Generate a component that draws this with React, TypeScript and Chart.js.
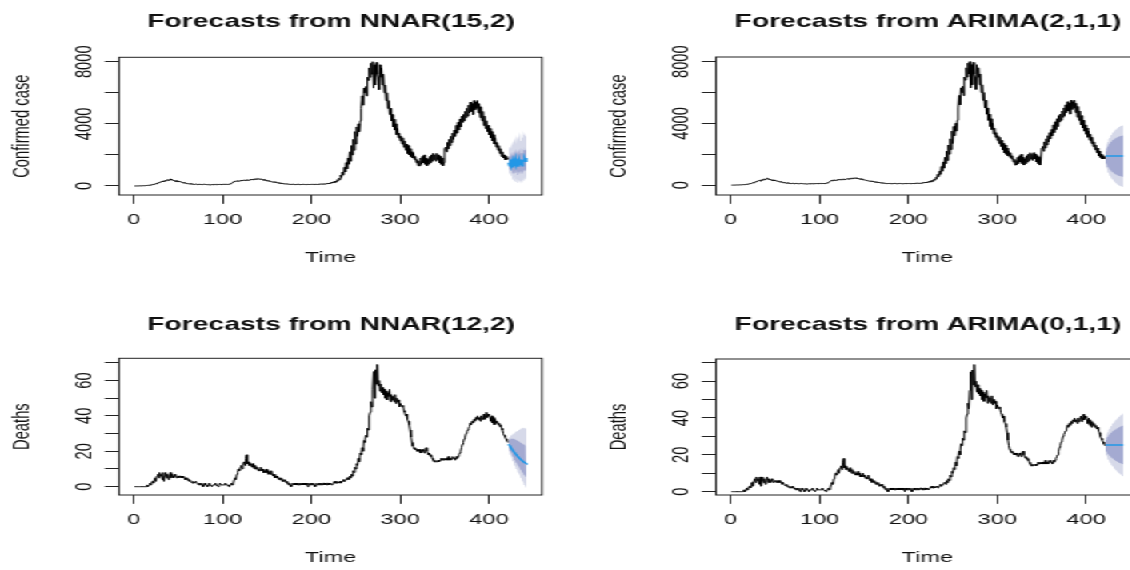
import React, { useEffect, useRef } from "react";
import { Chart, registerables } from "chart.js";

Chart.register(...registerables);

// ---------------- DATA ----------------
// Daily confirmed cases, day 1..421
const CASES: number[] = [
  0, 0, 2, 5, 3, 8, 10, 6, 12, 15,
  20, 18, 25, 30, 28, 40, 45, 60, 55, 80,
  90, 110, 100, 140, 160, 150, 200, 220, 210, 260,
  280, 300, 260, 320, 350, 310, 380, 400, 360, 420,
  450, 380, 410, 350, 380, 330, 300, 340, 280, 300,
  260, 280, 240, 250, 220, 200, 210, 180, 160, 170,
  150, 140, 130, 150, 120, 110, 130, 100, 110, 120,
  100, 90, 110, 100, 95, 105, 90, 100, 110, 95,
  100, 85, 90, 80, 95, 70, 85, 90, 75, 100,
  90, 100, 85, 110, 95, 105, 100, 110, 90, 100,
  110, 100, 120, 105, 115, 100, 130, 120, 140, 180,
  220, 260, 300, 280, 320, 300, 340, 310, 330, 350,
  320, 360, 340, 370, 350, 380, 360, 400, 370, 390,
  410, 380, 420, 400, 440, 420, 460, 430, 480, 450,
  470, 440, 420, 450, 400, 380, 410, 360, 350, 330,
  340, 300, 310, 280, 290, 260, 250, 270, 230, 240,
  220, 200, 210, 180, 190, 160, 170, 150, 140, 150,
  130, 120, 140, 110, 120, 100, 115, 105, 95, 110,
  100, 90, 105, 95, 110, 100, 90, 105, 95, 100,
  110, 95, 100, 90, 105, 100, 110, 95, 100, 105,
  100, 110, 95, 120, 105, 115, 100, 125, 110, 120,
  130, 115, 140, 120, 150, 130, 160, 140, 180, 150,
  200, 170, 240, 200, 280, 220, 320, 260, 400, 350,
  500, 420, 700, 550, 900, 700, 1200, 900, 1500, 1100,
  1800, 1400, 2200, 1600, 2600, 2000, 3000, 2300, 3500, 2700,
  3800, 3200, 4000, 3500, 4200, 5000, 5800, 5200, 6300, 6000,
  6400, 5800, 7000, 6800, 7600, 7000, 7900, 7200, 8000, 6300,
  7800, 6500, 7950, 7200, 7000, 6200, 7800, 7000, 7600, 6500,
  7200, 6000, 6500, 5500, 6000, 5000, 5500, 4600, 5000, 4200,
  4600, 3800, 4300, 3600, 4000, 3300, 3700, 3100, 3400, 2900,
  3200, 2700, 3100, 2500, 2900, 2300, 2700, 2100, 2600, 2000,
  2400, 1900, 2200, 1800, 2100, 1700, 1900, 1500, 1700, 1300,
  1600, 1300, 1800, 1400, 1900, 1500, 2000, 1400, 1800, 1300,
  1700, 1400, 1900, 1500, 2000, 1600, 2100, 1700, 2000, 1600,
  2100, 1700, 2000, 1500, 1900, 1400, 1800, 1300, 1500, 2400,
  2500, 2200, 2800, 2400, 3000, 2600, 3200, 2800, 3400, 3000,
  3600, 3200, 3900, 3400, 4100, 3600, 4300, 3800, 4500, 4100,
  4600, 4200, 4800, 4400, 5000, 4500, 5200, 4700, 5400, 4800,
  5300, 4600, 5500, 4900, 5400, 5000, 5500, 4700, 5300, 4400,
  5100, 4200, 4800, 3900, 4500, 3700, 4200, 3500, 3900, 3300,
  3700, 3100, 3500, 2900, 3300, 2700, 3100, 2500, 2800, 2300,
  2600, 2100, 2400, 1900, 2200, 1800, 2000, 1700, 1900, 1700,
  1800,
];

// Daily deaths, day 1..421
const DEATHS: number[] = [
  0, 0, 0, 0, 0, 0, 0, 0, 0, 0,
  0, 0, 0, 0, 1, 0, 1, 2, 1, 2,
  3, 2, 4, 5, 3, 6, 7, 5, 8, 6,
  7, 4, 8, 3, 6, 8, 5, 7, 4, 6,
  8, 5, 7, 6, 5, 7, 6, 5, 6, 6,
  5, 6, 6, 5, 6, 5, 5, 4, 5, 4,
  4, 3, 4, 3, 3, 2, 3, 2, 2, 3,
  2, 2, 1, 2, 1, 2, 1, 0, 1, 2,
  1, 1, 0, 1, 2, 1, 1, 0, 1, 1,
  1, 2, 1, 1, 0, 1, 2, 1, 1, 1,
  1, 1, 2, 1, 1, 1, 0, 1, 1, 2,
  1, 2, 4, 5, 4, 7, 8, 10, 9, 11,
  12, 10, 13, 14, 12, 16, 18, 13, 14, 12,
  13, 12, 11, 13, 11, 10, 12, 10, 11, 9,
  10, 9, 11, 9, 10, 8, 9, 8, 10, 8,
  9, 7, 8, 7, 9, 7, 6, 7, 5, 6,
  5, 6, 4, 5, 4, 5, 3, 4, 3, 4,
  3, 2, 3, 1, 2, 1, 0, 1, 2, 1,
  2, 1, 2, 1, 1, 2, 1, 2, 1, 2,
  1, 2, 1, 2, 1, 0, 2, 1, 1, 2,
  1, 2, 1, 0, 1, 2, 1, 1, 2, 1,
  2, 1, 2, 2, 1, 2, 1, 2, 2, 1,
  2, 2, 1, 2, 2, 3, 2, 2, 3, 2,
  2, 3, 2, 3, 3, 4, 3, 4, 4, 5,
  5, 4, 6, 5, 7, 6, 9, 8, 11, 10,
  13, 12, 16, 14, 19, 18, 22, 20, 26, 25,
  29, 28, 33, 32, 40, 42, 48, 45, 55, 65,
  50, 66, 58, 69, 57, 60, 54, 58, 53, 56,
  52, 55, 50, 54, 49, 53, 51, 55, 48, 52,
  49, 51, 48, 52, 47, 50, 48, 49, 45, 47,
  47, 45, 46, 43, 42, 40, 41, 38, 37, 35,
  32, 28, 25, 23, 22, 21, 22, 21, 20, 21,
  20, 21, 19, 20, 21, 20, 19, 21, 22, 20,
  19, 18, 19, 17, 18, 16, 15, 14, 15, 14,
  14, 14, 15, 14, 15, 16, 15, 16, 15, 16,
  15, 16, 15, 17, 15, 16, 15, 16, 17, 16,
  16, 15, 17, 16, 17, 18, 19, 20, 22, 24,
  25, 27, 28, 30, 31, 32, 33, 34, 36, 35,
  37, 36, 38, 37, 39, 38, 40, 38, 39, 37,
  40, 38, 39, 41, 38, 40, 42, 39, 41, 40,
  39, 37, 40, 36, 39, 35, 38, 36, 37, 35,
  36, 34, 35, 33, 32, 30, 29, 28, 27, 26,
  25,
];

// First forecast day (forecasts run for 21 days)
const FC_START = 422;

// NNAR(15,2) forecast of confirmed cases
const NNAR_CASE_MEAN = [1500, 1300, 1700, 1350, 1600, 1200, 1550, 1300, 1700, 1400, 1550, 1250, 1650, 1400, 1700, 1300, 1550, 1650, 1750, 1600, 1800];
const NNAR_CASE_HI95 = [2300, 2500, 2700, 2400, 2900, 2600, 3100, 2800, 3300, 2700, 3200, 3000, 3500, 2900, 3400, 3100, 3600, 3300, 3500, 3200, 3400];
const NNAR_CASE_LO95 = [900, 700, 900, 600, 700, 400, 600, 300, 500, 250, 450, 200, 400, 150, 350, 200, 400, 300, 500, 400, 600];
const NNAR_CASE_HI80 = [1900, 1900, 2200, 1900, 2200, 1900, 2300, 2000, 2400, 2000, 2300, 2000, 2400, 2100, 2500, 2100, 2400, 2300, 2500, 2300, 2500];
const NNAR_CASE_LO80 = [1150, 1000, 1200, 950, 1050, 800, 1000, 800, 1050, 850, 950, 700, 950, 750, 1000, 750, 900, 950, 1050, 950, 1100];

// ARIMA(2,1,1) forecast of confirmed cases
const ARIMA_CASE_MEAN = [1880, 1880, 1880, 1880, 1880, 1880, 1880, 1880, 1880, 1880, 1880, 1880, 1880, 1880, 1880, 1880, 1880, 1880, 1880, 1880, 1880];
const ARIMA_CASE_HI95 = [2350, 2600, 2800, 2950, 3050, 3150, 3250, 3330, 3400, 3470, 3530, 3590, 3640, 3690, 3730, 3770, 3800, 3830, 3850, 3870, 3880];
const ARIMA_CASE_LO95 = [1410, 1160, 960, 810, 710, 610, 510, 430, 360, 290, 230, 170, 120, 70, 30, -10, -40, -70, -90, -110, -120];
const ARIMA_CASE_HI80 = [2190, 2360, 2500, 2600, 2680, 2750, 2810, 2870, 2920, 2960, 3000, 3040, 3070, 3100, 3130, 3150, 3170, 3190, 3200, 3210, 3220];
const ARIMA_CASE_LO80 = [1570, 1400, 1260, 1160, 1080, 1010, 950, 890, 840, 800, 760, 720, 690, 660, 630, 610, 590, 570, 560, 550, 540];

// NNAR(12,2) forecast of deaths
const NNAR_DEATH_MEAN = [24, 23.3, 22.5, 21.8, 21, 20.3, 19.6, 19, 18.4, 17.8, 17.2, 16.7, 16.2, 15.7, 15.2, 14.8, 14.4, 14, 13.7, 13.4, 13.1];
const NNAR_DEATH_HI95 = [27, 28, 28.5, 29, 29.5, 30, 30, 30.5, 31, 31, 31.5, 32, 32, 32.5, 33, 33, 33.5, 33, 33.5, 33, 32.5];
const NNAR_DEATH_LO95 = [21, 19.5, 18, 17, 15.5, 14.5, 13, 12, 11, 10, 9, 8, 7, 6, 5, 4, 3, 2, 1, 0, -0.5];
const NNAR_DEATH_HI80 = [26, 26.5, 27, 27, 27, 27, 27, 27, 26.5, 26.5, 26, 26, 25.5, 25, 25, 24.5, 24, 24, 23.5, 23, 23];
const NNAR_DEATH_LO80 = [22, 21, 20, 19, 18, 17, 16, 15, 14, 13.5, 12.5, 12, 11, 10, 9.5, 8.5, 8, 7, 6.5, 6, 5.5];

// ARIMA(0,1,1) forecast of deaths
const ARIMA_DEATH_MEAN = [25.4, 25.4, 25.4, 25.4, 25.4, 25.4, 25.4, 25.4, 25.4, 25.4, 25.4, 25.4, 25.4, 25.4, 25.4, 25.4, 25.4, 25.4, 25.4, 25.4, 25.4];
const ARIMA_DEATH_HI95 = [29.5, 31, 32.3, 33.3, 34.2, 35, 35.7, 36.4, 37, 37.6, 38.2, 38.7, 39.2, 39.7, 40.2, 40.6, 41, 41.5, 41.9, 42.3, 42.7];
const ARIMA_DEATH_LO95 = [21.3, 19.8, 18.5, 17.5, 16.6, 15.8, 15.1, 14.4, 13.8, 13.2, 12.6, 12.1, 11.6, 11.1, 10.6, 10.2, 9.8, 9.3, 8.9, 8.5, 8.1];
const ARIMA_DEATH_HI80 = [28, 29, 29.8, 30.5, 31, 31.5, 32, 32.4, 32.8, 33.2, 33.5, 33.8, 34.1, 34.4, 34.7, 35, 35.2, 35.4, 35.6, 35.8, 36];
const ARIMA_DEATH_LO80 = [22.8, 21.8, 21, 20.3, 19.8, 19.3, 18.8, 18.4, 18, 17.6, 17.3, 17, 16.7, 16.4, 16.1, 15.8, 15.6, 15.4, 15.2, 15, 14.8];

// Tick labels
const X_TICKS = [0, 100, 200, 300, 400];
const CASE_TICKS = [0, 2000, 4000, 6000, 8000];
const CASE_LABELLED = [0, 4000, 8000];
const DEATH_TICKS = [0, 10, 20, 30, 40, 50, 60, 70];
const DEATH_LABELLED = [0, 20, 40, 60];

const TITLES = [
  "Forecasts from NNAR(15,2)",
  "Forecasts from ARIMA(2,1,1)",
  "Forecasts from NNAR(12,2)",
  "Forecasts from ARIMA(0,1,1)",
];
const Y_LABELS = ["Confirmed case", "Deaths"];

// ---------------- STYLE / LAYOUT ----------------
const STRETCH = 1.6;
const FONT = "'Liberation Sans', Arial, sans-serif";
const TEXT = "#111";
const FC_COLOR = "#2297E6";
const C80 = "#A4AAD1";
const C95 = "#D6D9E9";
const FS = 14.75;
const FS_TITLE = 17.7;

type Fc = { mean: number[]; hi95: number[]; lo95: number[]; hi80: number[]; lo80: number[] };

type PanelCfg = {
  title: string;
  ylab: string;
  history: number[];
  fc: Fc;
  yTicks: number[];
  yLabelled: number[];
  yMin: number;
  yMax: number;
  left: number;
  top: number;
  yW: number;
  rW: number;
  tPadTop: number;
  tPadBottom: number;
  xH: number;
  xTickPad: number;
  xTitlePadBottom: number;
  yTickPad: number;
};

const W = 414;
const H = 285;

const boxPlugin = {
  id: "plotBox",
  afterDatasetsDraw(chart: any) {
    const { ctx, chartArea: a } = chart;
    ctx.save();
    ctx.strokeStyle = "#222";
    ctx.lineWidth = 1;
    ctx.strokeRect(a.left, a.top, a.right - a.left, a.bottom - a.top);
    ctx.restore();
  },
};

function Panel({ cfg }: { cfg: PanelCfg }) {
  const ref = useRef<HTMLCanvasElement>(null);
  useEffect(() => {
    const p = cfg;
    const hist = p.history.map((v, i) => ({ x: i + 1, y: v }));
    const fx = (arr: number[]) => arr.map((v, i) => ({ x: FC_START + i, y: v }));
    const none = "rgba(0,0,0,0)";
    const font = { family: FONT, size: FS };
    const chart = new Chart(ref.current as HTMLCanvasElement, {
      type: "line",
      data: {
        datasets: [
          { label: "Forecast", data: fx(p.fc.mean), borderColor: FC_COLOR, borderWidth: 1.5, pointRadius: 0, fill: false, tension: 0 },
          { label: "Observed", data: hist, borderColor: "#000", borderWidth: 1.0, pointRadius: 0, fill: false, tension: 0 },
          { label: "80% upper", data: fx(p.fc.hi80), borderColor: none, borderWidth: 0, pointRadius: 0, backgroundColor: C80, fill: "+1", tension: 0 },
          { label: "80% lower", data: fx(p.fc.lo80), borderColor: none, borderWidth: 0, pointRadius: 0, fill: false, tension: 0 },
          { label: "95% upper", data: fx(p.fc.hi95), borderColor: none, borderWidth: 0, pointRadius: 0, backgroundColor: C95, fill: "+1", tension: 0 },
          { label: "95% lower", data: fx(p.fc.lo95), borderColor: none, borderWidth: 0, pointRadius: 0, fill: false, tension: 0 },
        ],
      },
      options: {
        animation: false,
        responsive: false,
        events: [],
        layout: { padding: 0 },
        plugins: {
          legend: { display: false },
          tooltip: { enabled: false },
          title: {
            display: true,
            text: p.title,
            color: TEXT,
            font: { family: FONT, size: FS_TITLE, weight: "bold", lineHeight: 1.2 },
            padding: { top: p.tPadTop, bottom: p.tPadBottom },
          },
        },
        scales: {
          x: {
            type: "linear",
            min: -16.6,
            max: 459.6,
            afterBuildTicks: (s: any) => {
              s.ticks = X_TICKS.map((v) => ({ value: v }));
            },
            afterFit: (s: any) => {
              s.height = p.xH;
            },
            grid: { display: true, drawOnChartArea: false, drawTicks: true, tickLength: 8.85, color: "#222", lineWidth: 1 },
            border: { display: false },
            ticks: {
              font,
              color: TEXT,
              padding: p.xTickPad,
              maxRotation: 0,
              minRotation: 0,
              autoSkip: false,
              callback: (v: any) => String(v),
            },
            title: { display: true, text: "Time", color: TEXT, font, padding: { top: 0, bottom: p.xTitlePadBottom } },
          },
          y: {
            type: "linear",
            position: "left",
            min: p.yMin,
            max: p.yMax,
            afterBuildTicks: (s: any) => {
              s.ticks = p.yTicks.map((v) => ({ value: v }));
            },
            afterFit: (s: any) => {
              s.width = p.yW;
            },
            grid: { display: true, drawOnChartArea: false, drawTicks: true, tickLength: 8.85, color: "#222", lineWidth: 1 },
            border: { display: false },
            ticks: {
              font,
              color: TEXT,
              padding: p.yTickPad,
              minRotation: 90,
              maxRotation: 90,
              crossAlign: "center",
              autoSkip: false,
              callback: (v: any) => (p.yLabelled.includes(v) ? String(v) : ""),
            },
            title: { display: true, text: p.ylab, color: TEXT, font, padding: { top: 5.15, bottom: 0 } },
          },
          yR: {
            type: "linear",
            position: "right",
            display: true,
            grid: { display: false },
            border: { display: false },
            ticks: { display: false },
            title: { display: false },
            afterFit: (s: any) => {
              s.width = p.rW;
            },
          },
        },
      } as any,
      plugins: [boxPlugin],
    });
    return () => chart.destroy();
  }, [cfg]);
  return (
    <canvas
      ref={ref}
      width={W}
      height={H}
      style={{ position: "absolute", left: cfg.left, top: cfg.top, width: W, height: H }}
    />
  );
}

const PANELS: PanelCfg[] = [
  {
    title: TITLES[0], ylab: Y_LABELS[0], history: CASES,
    fc: { mean: NNAR_CASE_MEAN, hi95: NNAR_CASE_HI95, lo95: NNAR_CASE_LO95, hi80: NNAR_CASE_HI80, lo80: NNAR_CASE_LO80 },
    yTicks: CASE_TICKS, yLabelled: CASE_LABELLED, yMin: -580, yMax: 8283,
    left: 0, top: 0, yW: 74.4, rW: W - 338.75,
    tPadTop: 11.38, tPadBottom: 24.68, xH: 90, xTickPad: 7.35, xTitlePadBottom: 18.65, yTickPad: -3.5,
  },
  {
    title: TITLES[1], ylab: Y_LABELS[0], history: CASES,
    fc: { mean: ARIMA_CASE_MEAN, hi95: ARIMA_CASE_HI95, lo95: ARIMA_CASE_LO95, hi80: ARIMA_CASE_HI80, lo80: ARIMA_CASE_LO80 },
    yTicks: CASE_TICKS, yLabelled: CASE_LABELLED, yMin: -640, yMax: 8300,
    left: 373, top: 0, yW: 74.5, rW: W - 338.9,
    tPadTop: 11.38, tPadBottom: 24.38, xH: 90, xTickPad: 7.35, xTitlePadBottom: 18.65, yTickPad: -3.5,
  },
  {
    title: TITLES[2], ylab: Y_LABELS[1], history: DEATHS,
    fc: { mean: NNAR_DEATH_MEAN, hi95: NNAR_DEATH_HI95, lo95: NNAR_DEATH_LO95, hi80: NNAR_DEATH_HI80, lo80: NNAR_DEATH_LO80 },
    yTicks: DEATH_TICKS, yLabelled: DEATH_LABELLED, yMin: -4.7, yMax: 72.5,
    left: 0, top: 285, yW: 74.4, rW: W - 338.75,
    tPadTop: 29.38, tPadBottom: 22.68, xH: 75, xTickPad: 6.85, xTitlePadBottom: 3.65, yTickPad: 4.7,
  },
  {
    title: TITLES[3], ylab: Y_LABELS[1], history: DEATHS,
    fc: { mean: ARIMA_DEATH_MEAN, hi95: ARIMA_DEATH_HI95, lo95: ARIMA_DEATH_LO95, hi80: ARIMA_DEATH_HI80, lo80: ARIMA_DEATH_LO80 },
    yTicks: DEATH_TICKS, yLabelled: DEATH_LABELLED, yMin: -1.8, yMax: 72,
    left: 373, top: 285, yW: 74.5, rW: W - 338.9,
    tPadTop: 29.38, tPadBottom: 23.38, xH: 75, xTickPad: 6.85, xTitlePadBottom: 3.65, yTickPad: 4.7,
  },
];

export default function App() {
  return (
    <div style={{ position: "fixed", left: 0, top: 0, width: 1130, height: 570, overflow: "hidden", background: "#fff" }}>
      <div
        style={{
          position: "absolute",
          left: 0,
          top: 0,
          width: 1130 / STRETCH,
          height: 570,
          transform: `scaleX(${STRETCH})`,
          transformOrigin: "0 0",
        }}
      >
        {PANELS.map((cfg, i) => (
          <Panel key={i} cfg={cfg} />
        ))}
      </div>
    </div>
  );
}
